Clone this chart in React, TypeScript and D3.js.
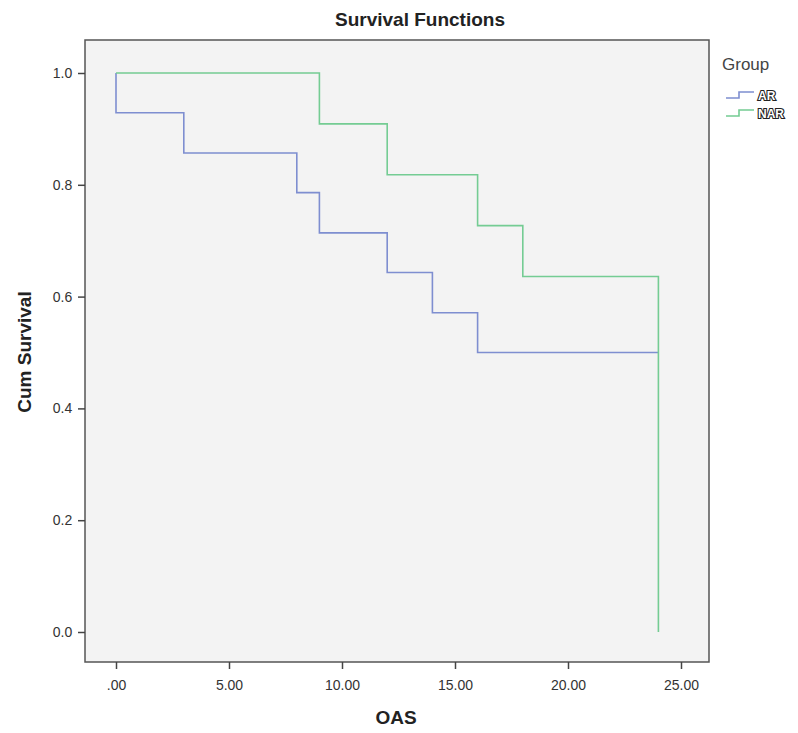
import React, { useEffect, useRef } from 'react';
import * as d3 from 'd3';

// Kaplan-Meier step points: [time, survival]
const arSteps: [number, number][] = [
  [0, 1.0], [0, 0.929], [3, 0.857], [8, 0.786], [9, 0.714],
  [12, 0.643], [14, 0.571], [16, 0.5], [24, 0.5],
];
const narSteps: [number, number][] = [
  [0, 1.0], [9, 0.909], [12, 0.818], [16, 0.727], [18, 0.636], [24, 0.0],
];
const xTicks = [0, 5, 10, 15, 20, 25];
const yTicks = [0, 0.2, 0.4, 0.6, 0.8, 1.0];
const groups = ['AR', 'NAR'];
const colors = ['#7e8ed0', '#74cc93'];

const App = () => {
  const ref = useRef<SVGSVGElement>(null);

  useEffect(() => {
    const svg = d3.select(ref.current);
    svg.selectAll('*').remove();

    const frame = { left: 85, top: 40, right: 709, bottom: 662 };

    const x = d3.scaleLinear().domain([0, 25]).range([116, 681]);
    const y = d3.scaleLinear().domain([0, 1]).range([632, 73]);

    // plot background
    svg.append('rect')
      .attr('x', frame.left)
      .attr('y', frame.top)
      .attr('width', frame.right - frame.left)
      .attr('height', frame.bottom - frame.top)
      .attr('fill', '#f3f3f3')
      .attr('stroke', '#555')
      .attr('stroke-width', 1.5);

    // X axis
    const xAxis = svg.append('g')
      .attr('transform', `translate(0,${frame.bottom})`)
      .call(d3.axisBottom(x).tickValues(xTicks).tickSize(7).tickSizeOuter(0)
        .tickFormat(d => (d === 0 ? '.00' : (d as number).toFixed(2))));
    xAxis.select('.domain').remove();
    xAxis.selectAll('line').attr('stroke', '#444').attr('stroke-width', 1.5);
    xAxis.selectAll('text')
      .attr('dy', '1.25em')
      .style('font-family', 'Liberation Sans, Arial, sans-serif')
      .style('font-size', '14px')
      .attr('fill', '#333');

    // Y axis
    const yAxis = svg.append('g')
      .attr('transform', `translate(${frame.left},0)`)
      .call(d3.axisLeft(y).tickValues(yTicks).tickSize(7).tickSizeOuter(0)
        .tickFormat(d3.format('.1f')));
    yAxis.select('.domain').remove();
    yAxis.selectAll('line').attr('stroke', '#444').attr('stroke-width', 1.5);
    yAxis.selectAll('text')
      .attr('dx', '-0.2em')
      .style('font-family', 'Liberation Sans, Arial, sans-serif')
      .style('font-size', '14px')
      .attr('fill', '#333');

    // step lines
    const line = d3.line<[number, number]>()
      .x(d => x(d[0]))
      .y(d => y(d[1]))
      .curve(d3.curveStepAfter);

    [arSteps, narSteps].forEach((data, i) => {
      svg.append('path')
        .datum(data)
        .attr('d', line)
        .attr('fill', 'none')
        .attr('stroke', colors[i])
        .attr('stroke-width', 1.6);
    });

    // Title and axis labels
    svg.append('text')
      .attr('x', 420)
      .attr('y', 26)
      .attr('text-anchor', 'middle')
      .style('font-family', 'Liberation Sans, Arial, sans-serif')
      .style('font-size', '19px')
      .style('font-weight', 'bold')
      .attr('fill', '#222')
      .text('Survival Functions');

    svg.append('text')
      .attr('x', 396)
      .attr('y', 724)
      .attr('text-anchor', 'middle')
      .style('font-family', 'Liberation Sans, Arial, sans-serif')
      .style('font-size', '19px')
      .style('font-weight', 'bold')
      .attr('fill', '#222')
      .text('OAS');

    svg.append('text')
      .attr('transform', 'rotate(-90)')
      .attr('x', -352)
      .attr('y', 31)
      .attr('text-anchor', 'middle')
      .style('font-family', 'Liberation Sans, Arial, sans-serif')
      .style('font-size', '19px')
      .style('font-weight', 'bold')
      .attr('fill', '#222')
      .text('Cum Survival');

    // Legend
    svg.append('text')
      .attr('x', 722)
      .attr('y', 70)
      .style('font-family', 'Liberation Sans, Arial, sans-serif')
      .style('font-size', '17px')
      .attr('fill', '#444')
      .text('Group');

    groups.forEach((g, i) => {
      const ly = 95 + i * 18;
      svg.append('path')
        .attr('d', `M726,${ly + 3}H739V${ly - 3}H754`)
        .attr('fill', 'none')
        .attr('stroke', colors[i])
        .attr('stroke-width', 1.6);
      svg.append('text')
        .attr('x', 758)
        .attr('y', ly + 5)
        .style('font-family', 'Liberation Sans, Arial, sans-serif')
        .style('font-size', '12px')
        .style('font-weight', 'bold')
        .attr('fill', '#fff')
        .attr('stroke', '#222')
        .attr('stroke-width', 2.2)
        .attr('paint-order', 'stroke')
        .text(g);
    });
  }, []);

  return <svg ref={ref} width={798} height={733} style={{ display: 'block', margin: '-8px' }} />;
};

export default App;
